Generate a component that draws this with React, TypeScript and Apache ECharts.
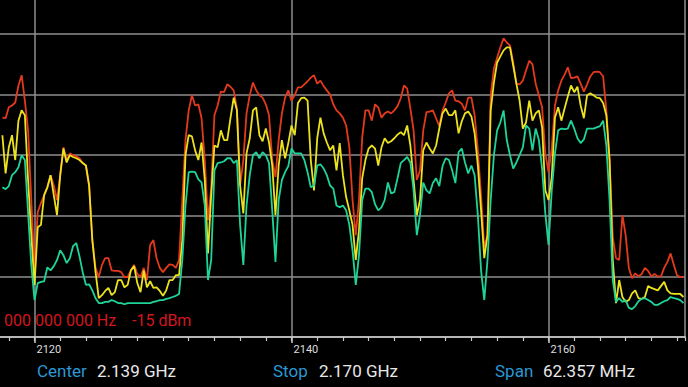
import React, { useEffect, useRef } from "react";
import * as echarts from "echarts";

// Frequency samples (MHz), 0.25 MHz apart
const freqs = [
  2117.5, 2117.75,
  2118, 2118.25, 2118.5, 2118.75, 2119, 2119.25, 2119.5, 2119.75,
  2120, 2120.25, 2120.5, 2120.75, 2121, 2121.25, 2121.5, 2121.75,
  2122, 2122.25, 2122.5, 2122.75, 2123, 2123.25, 2123.5, 2123.75,
  2124, 2124.25, 2124.5, 2124.75, 2125, 2125.25, 2125.5, 2125.75,
  2126, 2126.25, 2126.5, 2126.75, 2127, 2127.25, 2127.5, 2127.75,
  2128, 2128.25, 2128.5, 2128.75, 2129, 2129.25, 2129.5, 2129.75,
  2130, 2130.25, 2130.5, 2130.75, 2131, 2131.25, 2131.5, 2131.75,
  2132, 2132.25, 2132.5, 2132.75, 2133, 2133.25, 2133.5, 2133.75,
  2134, 2134.25, 2134.5, 2134.75, 2135, 2135.25, 2135.5, 2135.75,
  2136, 2136.25, 2136.5, 2136.75, 2137, 2137.25, 2137.5, 2137.75,
  2138, 2138.25, 2138.5, 2138.75, 2139, 2139.25, 2139.5, 2139.75,
  2140, 2140.25, 2140.5, 2140.75, 2141, 2141.25, 2141.5, 2141.75,
  2142, 2142.25, 2142.5, 2142.75, 2143, 2143.25, 2143.5, 2143.75,
  2144, 2144.25, 2144.5, 2144.75, 2145, 2145.25, 2145.5, 2145.75,
  2146, 2146.25, 2146.5, 2146.75, 2147, 2147.25, 2147.5, 2147.75,
  2148, 2148.25, 2148.5, 2148.75, 2149, 2149.25, 2149.5, 2149.75,
  2150, 2150.25, 2150.5, 2150.75, 2151, 2151.25, 2151.5, 2151.75,
  2152, 2152.25, 2152.5, 2152.75, 2153, 2153.25, 2153.5, 2153.75,
  2154, 2154.25, 2154.5, 2154.75, 2155, 2155.25, 2155.5, 2155.75,
  2156, 2156.25, 2156.5, 2156.75, 2157, 2157.25, 2157.5, 2157.75,
  2158, 2158.25, 2158.5, 2158.75, 2159, 2159.25, 2159.5, 2159.75,
  2160, 2160.25, 2160.5, 2160.75, 2161, 2161.25, 2161.5, 2161.75,
  2162, 2162.25, 2162.5, 2162.75, 2163, 2163.25, 2163.5, 2163.75,
  2164, 2164.25, 2164.5, 2164.75, 2165, 2165.25, 2165.5, 2165.75,
  2166, 2166.25, 2166.5, 2166.75, 2167, 2167.25, 2167.5, 2167.75,
  2168, 2168.25, 2168.5, 2168.75, 2169, 2169.25, 2169.5, 2169.75,
  2170, 2170.25, 2170.5,
];

// Max-hold trace (dBm, red)
const maxHold = [
  -63.8, -63.9, -62.1, -61.8, -61.3, -58.5, -56.8, -61.0, -65.9, -77.4,
  -89.0, -79.4, -77.9, -76.6, -75.3, -73.3, -75.0, -77.4, -73.3, -68.7,
  -70.8, -69.7, -70.0, -70.2, -70.5, -71.3, -71.7, -75.0, -84.0, -88.6,
  -90.1, -88.1, -87.0, -87.0, -89.0, -89.1, -89.1, -89.3, -90.1, -90.1,
  -89.0, -88.1, -89.6, -90.1, -88.6, -90.6, -84.8, -84.0, -87.0, -88.6,
  -89.3, -88.6, -88.0, -88.1, -88.6, -87.3, -77.4, -67.5, -62.6, -60.1,
  -61.8, -61.6, -63.9, -70.8, -80.7, -75.5, -63.4, -61.8, -59.5, -59.6,
  -58.3, -58.7, -59.3, -62.3, -75.0, -70.8, -63.1, -60.1, -58.0, -59.3,
  -60.1, -60.5, -61.6, -63.4, -70.8, -73.6, -67.5, -63.1, -60.5, -59.3,
  -61.0, -60.1, -58.8, -58.8, -58.3, -57.8, -57.2, -56.8, -58.2, -57.7,
  -58.6, -59.3, -60.0, -61.6, -62.6, -63.1, -63.8, -65.1, -68.7, -77.4,
  -83.2, -77.4, -67.1, -62.6, -62.6, -64.3, -61.6, -62.1, -63.8, -63.1,
  -62.8, -63.1, -62.6, -61.9, -60.6, -58.5, -59.0, -62.3, -65.9, -74.1,
  -72.5, -65.9, -62.9, -62.8, -62.6, -63.9, -65.2, -62.6, -61.3, -59.8,
  -59.3, -61.0, -61.1, -61.5, -62.6, -60.5, -60.5, -63.4, -69.2, -76.6,
  -85.2, -83.2, -60.1, -55.7, -53.9, -52.2, -50.7, -51.4, -51.9, -54.7,
  -58.2, -58.3, -57.7, -56.0, -54.4, -55.0, -58.2, -60.1, -62.1, -69.7,
  -72.8, -68.9, -61.8, -59.3, -57.7, -56.7, -55.5, -57.3, -57.2, -57.0,
  -58.2, -59.5, -58.3, -57.0, -56.3, -56.2, -56.3, -57.0, -62.6, -70.8,
  -83.5, -87.0, -87.3, -79.9, -83.2, -88.6, -90.3, -89.5, -90.0, -89.6,
  -88.6, -89.1, -90.0, -89.6, -90.0, -90.0, -88.6, -87.6, -86.2, -88.1,
  -89.8, -90.1, -90.1,
];

// Average trace (dBm, yellow)
const average = [
  -66.7, -73.0, -68.7, -66.7, -70.8, -64.3, -62.6, -63.4, -74.1, -83.2,
  -91.4, -81.9, -81.5, -76.6, -75.3, -73.3, -76.6, -79.9, -73.3, -68.9,
  -71.2, -70.0, -70.3, -70.5, -70.8, -71.3, -71.7, -75.0, -84.0, -89.3,
  -93.6, -93.1, -92.4, -91.9, -93.1, -92.6, -90.6, -90.6, -91.8, -91.4,
  -89.0, -88.3, -91.1, -92.6, -89.0, -91.8, -90.8, -91.9, -91.8, -92.4,
  -93.2, -92.3, -90.6, -90.6, -89.8, -89.8, -84.0, -70.0, -66.7, -66.9,
  -69.2, -70.8, -67.9, -74.1, -86.2, -76.6, -68.4, -68.7, -65.9, -67.5,
  -67.5, -63.9, -60.5, -62.6, -75.0, -79.6, -69.7, -67.2, -62.6, -62.1,
  -66.7, -67.7, -65.6, -67.9, -71.7, -79.9, -71.7, -67.5, -70.5, -68.0,
  -65.1, -66.7, -61.4, -60.6, -60.5, -61.0, -70.8, -75.8, -67.2, -63.8,
  -66.4, -67.9, -69.2, -68.4, -72.5, -68.0, -73.3, -76.9, -79.1, -81.5,
  -87.3, -82.4, -73.8, -70.8, -68.9, -68.4, -68.9, -71.7, -68.7, -67.2,
  -68.0, -67.7, -67.2, -66.6, -66.2, -66.7, -65.1, -68.4, -74.1, -79.9,
  -77.4, -69.2, -67.9, -68.9, -69.7, -68.4, -65.6, -63.1, -62.3, -63.4,
  -63.4, -62.6, -66.4, -64.4, -63.1, -62.8, -63.6, -66.4, -71.7, -79.1,
  -87.0, -83.2, -62.6, -58.0, -54.7, -53.7, -52.7, -52.2, -52.2, -55.2,
  -58.2, -61.0, -65.6, -64.6, -61.0, -64.3, -63.1, -62.6, -65.4, -75.8,
  -77.4, -73.6, -63.8, -62.1, -64.3, -62.3, -60.3, -58.5, -59.6, -58.7,
  -61.8, -63.9, -60.1, -59.8, -60.1, -60.5, -60.6, -61.4, -63.4, -70.8,
  -87.3, -94.4, -90.6, -93.4, -94.2, -93.9, -92.8, -92.3, -93.6, -93.7,
  -93.4, -91.6, -91.9, -92.1, -92.3, -91.6, -90.9, -92.3, -92.8, -92.9,
  -92.9, -92.9, -93.4,
];

// Live trace (dBm, green)
const live = [
  -75.3, -75.6, -75.1, -73.3, -72.8, -72.0, -70.0, -70.8, -79.4, -88.1,
  -93.9, -91.1, -90.9, -90.8, -88.5, -89.0, -88.3, -87.3, -85.7, -86.5,
  -87.8, -87.0, -85.0, -84.5, -86.7, -89.3, -91.4, -91.3, -92.3, -93.6,
  -94.4, -94.4, -94.2, -94.2, -93.9, -94.1, -94.4, -94.4, -94.6, -94.4,
  -94.4, -94.4, -94.4, -94.4, -94.4, -94.4, -94.4, -94.2, -94.1, -93.9,
  -93.9, -93.7, -93.6, -93.4, -93.2, -92.9, -87.3, -78.3, -72.8, -72.7,
  -72.8, -74.0, -74.5, -78.3, -90.6, -87.3, -72.5, -71.3, -71.2, -71.0,
  -70.5, -70.5, -71.3, -70.8, -81.5, -88.1, -78.3, -73.3, -70.0, -69.5,
  -70.5, -69.5, -70.0, -71.3, -79.1, -87.6, -77.4, -74.1, -72.8, -71.8,
  -68.9, -69.7, -69.7, -69.7, -70.8, -72.8, -75.3, -75.0, -71.7, -71.5,
  -72.2, -73.3, -75.0, -75.5, -78.3, -78.6, -78.3, -79.1, -81.5, -85.7,
  -91.4, -86.5, -77.4, -75.5, -75.5, -76.1, -78.1, -79.1, -78.6, -77.4,
  -74.5, -76.3, -76.1, -73.8, -71.3, -70.8, -70.3, -71.2, -75.8, -83.2,
  -79.9, -74.5, -75.8, -76.3, -74.6, -73.8, -75.1, -71.8, -70.5, -70.8,
  -72.5, -74.6, -69.5, -68.9, -71.2, -73.0, -71.7, -73.3, -79.9, -89.0,
  -93.9, -87.3, -77.4, -70.0, -65.9, -64.6, -62.6, -67.5, -70.0, -72.2,
  -71.2, -70.0, -68.7, -65.1, -65.6, -69.2, -65.6, -67.5, -72.2, -79.6,
  -84.8, -75.8, -69.7, -65.9, -65.6, -65.7, -65.6, -64.3, -65.6, -67.2,
  -68.0, -67.4, -65.6, -65.6, -65.6, -65.4, -65.2, -64.3, -68.4, -77.4,
  -90.6, -94.2, -93.6, -94.2, -93.9, -95.2, -95.4, -94.9, -94.1, -93.7,
  -93.6, -93.9, -94.2, -94.7, -94.7, -94.4, -94.1, -93.9, -93.4, -93.6,
  -93.7, -93.9, -94.4,
];

const freqMin = 2100;
const freqMax = 2170.62;
const majorStep = 20;
const minorStep = 2;
const levelMin = -100;
const levelMax = -40;
const levelStep = 10;

const markerFreq = "000 000 000 Hz";
const markerLevel = "-15 dBm";
const infoLabels = ["Center", "Stop", "Span"];
const infoValues = ["2.139 GHz", "2.170 GHz", "62.357 MHz"];

const FONT = "Roboto, 'Noto Sans', sans-serif";

export default function App() {
  const ref = useRef<HTMLDivElement>(null);

  useEffect(() => {
    if (!ref.current) return;
    const chart = echarts.init(ref.current, undefined, { renderer: "svg" });
    const pairs = (vals: number[]) => freqs.map((f, i) => [f, vals[i]]);
    const infoX = [[37, 97], [273, 319], [495, 543]];
    const graphics: any[] = [
      {
        type: "text",
        x: 4,
        y: 320,
        style: {
          text: markerFreq,
          fill: "#d4161e",
          font: `16px ${FONT}`,
          textVerticalAlign: "middle",
        },
      },
      {
        type: "text",
        x: 132,
        y: 320,
        style: {
          text: markerLevel,
          fill: "#d4161e",
          font: `16px ${FONT}`,
          textVerticalAlign: "middle",
        },
      },
    ];
    infoLabels.forEach((lab, i) => {
      graphics.push({
        type: "text",
        x: infoX[i][0],
        y: 371,
        style: {
          text: lab,
          fill: "#2a98d4",
          font: `17px ${FONT}`,
          textVerticalAlign: "middle",
        },
      });
      graphics.push({
        type: "text",
        x: infoX[i][1],
        y: 371,
        style: {
          text: infoValues[i],
          fill: "#e8e8e8",
          font: `17px ${FONT}`,
          textVerticalAlign: "middle",
        },
      });
    });

    chart.setOption({
      animation: false,
      backgroundColor: "#000",
      grid: {
        left: -222.5,
        right: 3,
        top: -26.6,
        bottom: 50,
        containLabel: false,
        outerBoundsMode: "none",
      },
      xAxis: [
        {
          type: "value",
          min: freqMin,
          max: freqMax,
          interval: majorStep,
          axisLine: { show: true, lineStyle: { color: "#d0d0d0", width: 1.5 } },
          axisTick: { show: true, length: 6, lineStyle: { color: "#d0d0d0", width: 1.5 } },
          axisLabel: {
            show: true,
            showMinLabel: false,
            showMaxLabel: false,
            color: "#dedede",
            fontSize: 11,
            fontFamily: FONT,
            align: "left",
            margin: 7,
            padding: [0, 0, 0, 2],
            formatter: (v: number) => String(v),
          },
          splitLine: { show: true, lineStyle: { color: "#8e8e8e", width: 1.5 } },
        },
        {
          type: "value",
          min: freqMin,
          max: freqMax,
          interval: minorStep,
          position: "bottom",
          axisLine: { show: false },
          axisTick: { show: true, length: 4, lineStyle: { color: "#c8c8c8", width: 1.2 } },
          axisLabel: { show: false },
          splitLine: { show: false },
        },
      ],
      yAxis: {
        type: "value",
        min: levelMin,
        max: levelMax,
        interval: levelStep,
        axisLine: { show: false },
        axisTick: { show: false },
        axisLabel: { show: false },
        splitLine: { show: true, lineStyle: { color: "#8e8e8e", width: 1.5 } },
      },
      series: [
        {
          type: "line",
          xAxisIndex: 0,
          data: pairs(maxHold),
          showSymbol: false,
          lineStyle: { color: "#e3391c", width: 1.8 },
          z: 2,
        },
        {
          type: "line",
          xAxisIndex: 0,
          data: pairs(average),
          showSymbol: false,
          lineStyle: { color: "#ece21e", width: 1.8 },
          z: 3,
        },
        {
          type: "line",
          xAxisIndex: 0,
          data: pairs(live),
          showSymbol: false,
          lineStyle: { color: "#1fd49a", width: 1.8 },
          z: 4,
        },
      ],
      graphic: graphics,
    });
    return () => chart.dispose();
  }, []);

  return (
    <div
      ref={ref}
      style={{ position: "fixed", left: 0, top: 0, width: 688, height: 387, background: "#000" }}
    />
  );
}
